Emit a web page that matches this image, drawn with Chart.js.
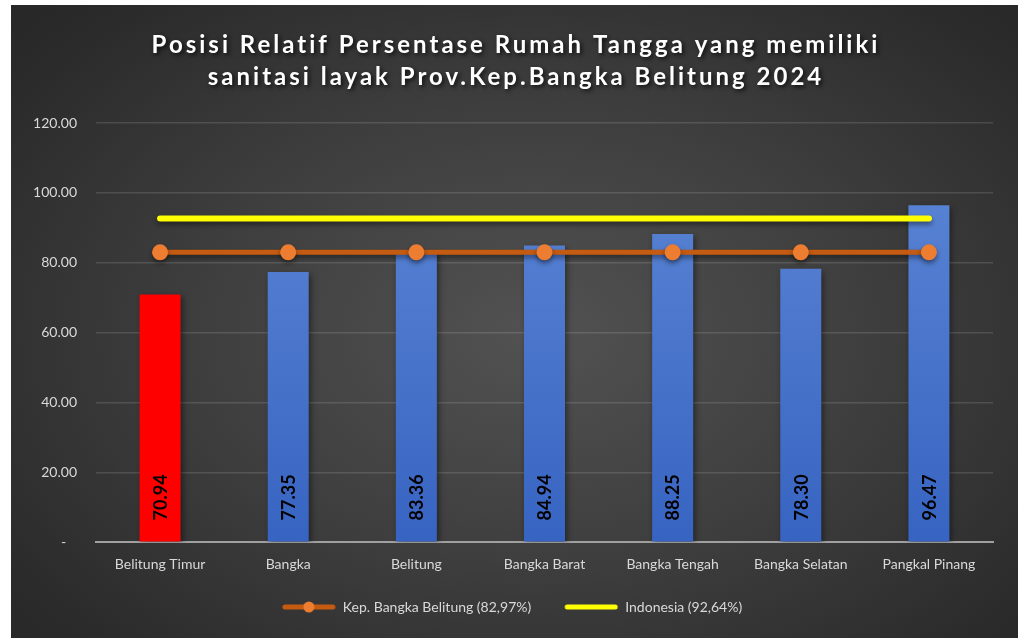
<!DOCTYPE html>
<html>
<head>
<meta charset="utf-8">
<script src="https://cdn.jsdelivr.net/npm/chart.js@4"></script>
<style>
    html, body { margin: 0; padding: 0; background: #ffffff; }
    #wrap {
        position: absolute;
        left: 11px;
        top: 5px;
        width: 1007px;
        height: 633px;
        background: radial-gradient(ellipse 75% 80% at 52% 52%, #525252 0%, #3e3e3e 45%, #2a2a2a 85%, #262626 100%);
    }
</style>
</head>
<body>
<div id="wrap"><canvas id="sanitasiChart" width="1007" height="633"></canvas></div>
<script>
// ----------------------
//  DATA
// ----------------------
const titleLines = [
    'Posisi Relatif Persentase Rumah Tangga yang memiliki',
    'sanitasi layak Prov.Kep.Bangka Belitung 2024'
];
const categories = ['Belitung Timur', 'Bangka', 'Belitung', 'Bangka Barat', 'Bangka Tengah', 'Bangka Selatan', 'Pangkal Pinang'];
const sanitasiValues = [70.94, 77.35, 83.36, 84.94, 88.25, 78.30, 96.47];
const provinsiLine = [82.97, 82.97, 82.97, 82.97, 82.97, 82.97, 82.97];
const indonesiaLine = [92.64, 92.64, 92.64, 92.64, 92.64, 92.64, 92.64];
const seriesLabels = ['Persentase', 'Kep. Bangka Belitung (82,97%)', 'Indonesia (92,64%)'];
const yTicks = { min: 0, max: 120, step: 20 };

// ----------------------
//  HELPERS
// ----------------------
// legend icon: transparent gap on the left gives the spacing between items
const ICON_W = 74;
const ICON_GAP = 20;
function legendIcon(lineColor, pointColor) {
    const c = document.createElement('canvas');
    c.width = ICON_W;
    c.height = 16;
    const g = c.getContext('2d');
    g.strokeStyle = lineColor;
    g.lineWidth = 5;
    g.lineCap = 'round';
    g.beginPath();
    g.moveTo(ICON_GAP + 3, 8);
    g.lineTo(ICON_W - 3, 8);
    g.stroke();
    if (pointColor) {
        g.fillStyle = pointColor;
        g.beginPath();
        g.arc((ICON_GAP + ICON_W) / 2, 8, 5.5, 0, Math.PI * 2);
        g.fill();
    }
    return c;
}
const icons = [null, legendIcon('#c55a11', '#ed7d31'), legendIcon('#ffff00', null)];

function barColor(context) {
    const i = context.dataIndex;
    if (sanitasiValues[i] === Math.min(...sanitasiValues)) return '#ff0000';
    const area = context.chart.chartArea;
    if (!area) return '#4472c4';
    const grad = context.chart.ctx.createLinearGradient(0, area.top, 0, area.bottom);
    grad.addColorStop(0, '#5f88d6');
    grad.addColorStop(1, '#3764c2');
    return grad;
}

// title drawn with letter spacing + shadow
const titlePlugin = {
    id: 'spacedTitle',
    beforeDraw(chart) {
        const ctx = chart.ctx;
        ctx.save();
        ctx.font = 'bold 24px Lato';
        ctx.fillStyle = '#ffffff';
        ctx.textAlign = 'center';
        ctx.textBaseline = 'middle';
        ctx.letterSpacing = '3px';
        ctx.shadowColor = 'rgba(0,0,0,0.75)';
        ctx.shadowBlur = 4;
        ctx.shadowOffsetX = 2;
        ctx.shadowOffsetY = 2;
        ctx.fillText(titleLines[0], 505, 40);
        ctx.fillText(titleLines[1], 505, 72);
        ctx.restore();
    }
};

// drop shadows under bars and lines
const shadowPlugin = {
    id: 'shadows',
    beforeDatasetDraw(chart, args) {
        const ctx = chart.ctx;
        ctx.save();
        ctx.shadowColor = 'rgba(0,0,0,0.45)';
        ctx.shadowBlur = args.index === 0 ? 6 : 5;
        ctx.shadowOffsetX = args.index === 0 ? 2 : 0;
        ctx.shadowOffsetY = 3;
    },
    afterDatasetDraw(chart) {
        chart.ctx.restore();
    }
};

// vertical value labels inside bars
const valueLabels = {
    id: 'valueLabels',
    afterDatasetsDraw(chart) {
        const ctx = chart.ctx;
        const meta = chart.getDatasetMeta(0);
        ctx.save();
        ctx.font = 'bold 18px Lato';
        ctx.fillStyle = '#000000';
        ctx.textAlign = 'left';
        ctx.textBaseline = 'middle';
        meta.data.forEach((bar, i) => {
            ctx.save();
            ctx.translate(bar.x + 1, bar.base - 21);
            ctx.rotate(-Math.PI / 2);
            ctx.fillText(sanitasiValues[i].toFixed(2), 0, 0);
            ctx.restore();
        });
        ctx.restore();
    }
};

// ----------------------
//  CHART
// ----------------------
Chart.defaults.font.family = 'Lato';
Chart.defaults.color = '#d9d9d9';

const ctx = document.getElementById('sanitasiChart').getContext('2d');
new Chart(ctx, {
    type: 'bar',
    data: {
        labels: categories,
        datasets: [{
            label: seriesLabels[0],
            data: sanitasiValues,
            backgroundColor: barColor,
            barPercentage: 0.32,
            categoryPercentage: 1,
            order: 2
        }, {
            type: 'line',
            label: seriesLabels[1],
            data: provinsiLine,
            borderColor: '#c55a11',
            backgroundColor: '#c55a11',
            borderWidth: 5,
            pointRadius: 8,
            pointBackgroundColor: '#ed7d31',
            pointBorderWidth: 0,
            order: 0
        }, {
            type: 'line',
            label: seriesLabels[2],
            data: indonesiaLine,
            borderColor: '#ffff00',
            backgroundColor: '#ffff00',
            borderWidth: 6,
            borderCapStyle: 'round',
            pointRadius: 0,
            order: 1
        }]
    },
    options: {
        responsive: false,
        animation: false,
        devicePixelRatio: 1,
        layout: {
            padding: { top: 118, right: 25, left: 0, bottom: 14 }
        },
        scales: {
            x: {
                grid: { display: false, drawTicks: false },
                border: { display: true, color: '#a0a0a0', width: 2 },
                ticks: { padding: 14, font: { size: 14 }, color: '#d9d9d9' }
            },
            y: {
                min: yTicks.min,
                max: yTicks.max,
                afterFit(scale) { scale.width = 85; },
                grid: { color: 'rgba(255,255,255,0.13)', lineWidth: 1.5, drawTicks: false },
                border: { display: false },
                ticks: {
                    stepSize: yTicks.step,
                    padding: 19,
                    font: { size: 14 },
                    color: '#d9d9d9',
                    callback: function (value) {
                        return value === 0 ? '-   ' : value.toFixed(2);
                    }
                }
            }
        },
        plugins: {
            tooltip: { enabled: false },
            legend: {
                position: 'bottom',
                labels: {
                    usePointStyle: true,
                    pointStyleWidth: ICON_W,
                    padding: 13,
                    font: { size: 14 },
                    color: '#d9d9d9',
                    filter: (item) => item.datasetIndex !== 0,
                    generateLabels: function (chart) {
                        const items = Chart.defaults.plugins.legend.labels.generateLabels(chart);
                        return items.map(it => Object.assign(it, { pointStyle: icons[it.datasetIndex] || 'rect' }));
                    }
                }
            }
        }
    },
    plugins: [titlePlugin, shadowPlugin, valueLabels]
});
</script>
</body>
</html>
